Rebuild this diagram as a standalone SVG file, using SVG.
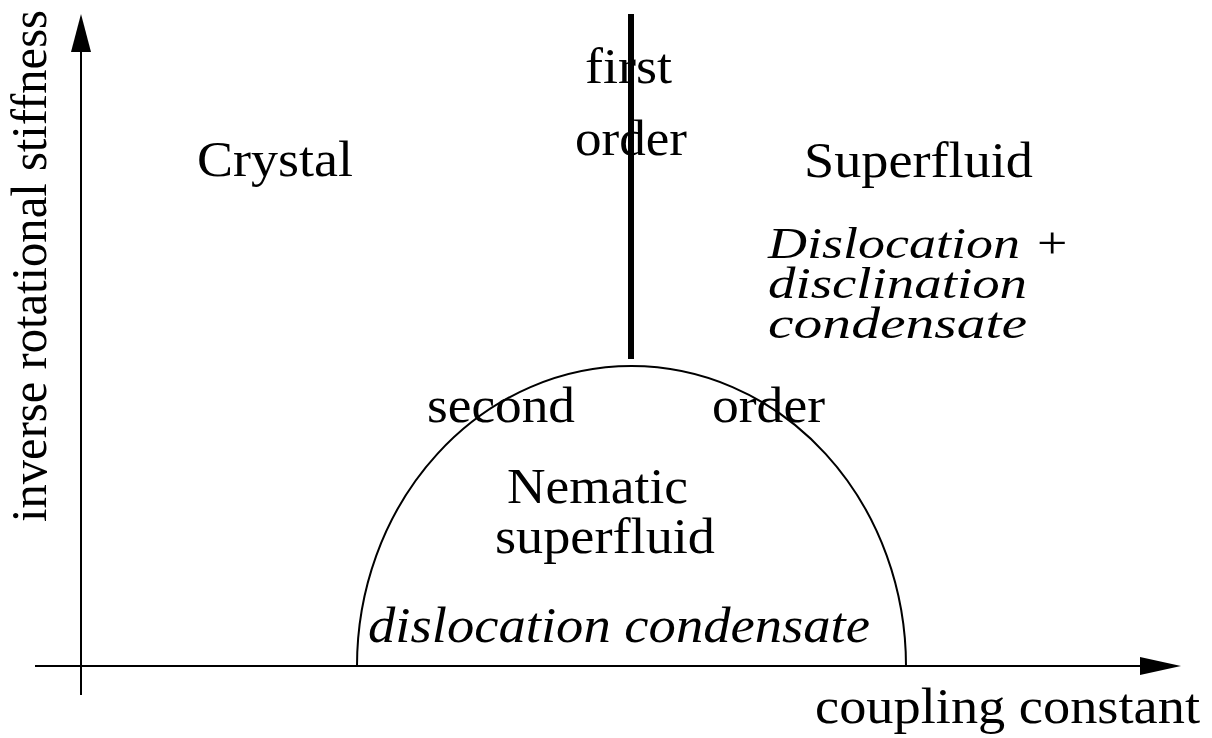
<svg xmlns="http://www.w3.org/2000/svg" width="1212" height="738" viewBox="0 0 1212 738">
<style>
text{font-family:"Liberation Serif","Times New Roman",serif;font-size:50px;fill:#000}
.it{font-style:italic}
.blk{font-size:45px}
.ax{stroke:#000;stroke-width:2;fill:none}
</style>
<rect width="1212" height="738" fill="#fff"/>
<g id="connectors">
<line class="ax" x1="81" y1="695" x2="81" y2="50"/>
<polygon points="81,14 71,52 91,52" fill="#000"/>
<line class="ax" x1="35" y1="666" x2="1142" y2="666"/>
<polygon points="1181,666 1140,657 1140,675" fill="#000"/>
<line x1="631" y1="14" x2="631" y2="359" stroke="#000" stroke-width="6"/>
<path d="M357,666 A274.5,300 0 0 1 906,666" fill="none" stroke="#000" stroke-width="2"/>
</g>
<g id="axis-y-label"><text transform="translate(46,522) rotate(-90)" textLength="512" lengthAdjust="spacingAndGlyphs">inverse rotational stiffness</text></g>
<g id="axis-x-label"><text x="815" y="723" textLength="385" lengthAdjust="spacingAndGlyphs">coupling constant</text></g>
<g id="crystal"><text x="197" y="176" textLength="156" lengthAdjust="spacingAndGlyphs">Crystal</text></g>
<g id="superfluid"><text x="804" y="177" textLength="229" lengthAdjust="spacingAndGlyphs">Superfluid</text>
<text class="it blk" x="768" y="258" textLength="302" lengthAdjust="spacingAndGlyphs">Dislocation +</text>
<text class="it blk" x="768" y="298" textLength="259" lengthAdjust="spacingAndGlyphs">disclination</text>
<text class="it blk" x="768" y="338" textLength="259" lengthAdjust="spacingAndGlyphs">condensate</text></g>
<g id="first-order"><text x="585" y="83" textLength="87" lengthAdjust="spacingAndGlyphs">first</text>
<text x="575" y="155" textLength="112" lengthAdjust="spacingAndGlyphs">order</text></g>
<g id="second-order"><text x="427" y="422" textLength="148" lengthAdjust="spacingAndGlyphs">second</text>
<text x="712" y="422" textLength="113" lengthAdjust="spacingAndGlyphs">order</text></g>
<g id="nematic"><text x="507" y="503" font-size="47" textLength="181" lengthAdjust="spacingAndGlyphs">Nematic</text>
<text x="495" y="553" font-size="47" textLength="220" lengthAdjust="spacingAndGlyphs">superfluid</text>
<text class="it" x="368" y="642" textLength="502" lengthAdjust="spacingAndGlyphs">dislocation condensate</text></g>
</svg>
